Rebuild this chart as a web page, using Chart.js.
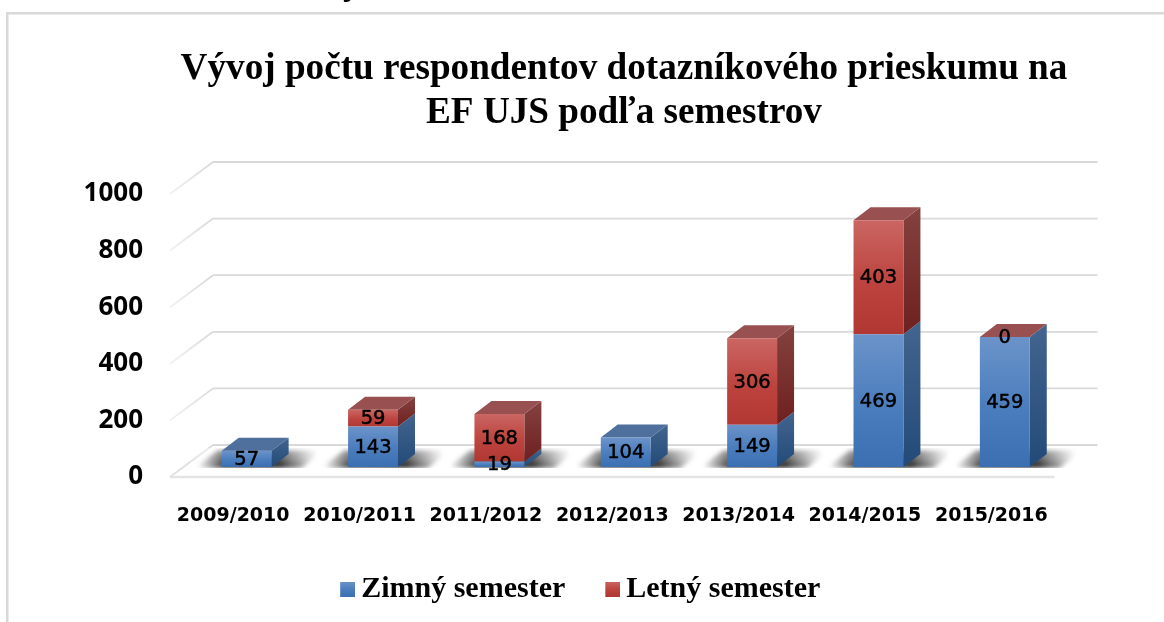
<!DOCTYPE html>
<html lang="sk"><head><meta charset="utf-8">
<style>html,body{margin:0;padding:0;background:#fff}canvas{display:block}</style>
<script src="https://cdn.jsdelivr.net/npm/chart.js@4/dist/chart.umd.min.js"></script>
</head><body><canvas id="c" width="1164" height="622"></canvas>
<script>
const categories=['2009/2010','2010/2011','2011/2012','2012/2013','2013/2014','2014/2015','2015/2016'];
const winter=[57,143,19,104,149,469,459];
const summer=[null,59,168,null,306,403,0];
const seriesNames=['Zimný semester','Letný semester'];
const titleLines=['Vývoj počtu respondentov dotazníkového prieskumu na','EF UJS podľa semestrov'];

const GRID='#d9d9d9';
const BAR_DX=13.5,BAR_DY=-10;     // offset of the bars on the floor
const DEPTH_X=17,DEPTH_Y=-13;     // depth of a bar
const WALL_X=43,WALL_Y=-32;       // depth of the walls
const FACE={blue:['#6b93c9','#4a7dbd','#3b6fb2'],red:['#ca6663','#bd433e','#b13733']};
const SIDE={blue:['#43658f','#234a78'],red:['#84423f','#6e2020']};
const TOP={blue:'#4f6f9c',red:'#985050'};

function faceGradient(ctx,y0,y1,c){
  const g=ctx.createLinearGradient(0,y0,0,y1);
  g.addColorStop(0,c[0]);g.addColorStop(.55,c[1]);g.addColorStop(1,c[2]);return g;
}
function swatch(c){
  const k=document.createElement('canvas');k.width=19;k.height=15;
  const x=k.getContext('2d');x.fillStyle=faceGradient(x,0,15,c);x.fillRect(4,0,15,15);return k;
}
function faceColor(c,lower){
  return function(context){
    const chart=context.chart,y=chart.scales.y,i=context.dataIndex;
    if(i===undefined||!y) return c[1];
    const base=lower?lower[i]||0:0,v=context.dataset.data[i]||0;
    return faceGradient(chart.ctx,y.getPixelForValue(base+v),y.getPixelForValue(base),c);
  };
}
function poly(ctx,pts,fill){
  ctx.beginPath();pts.forEach((p,i)=>i?ctx.lineTo(p[0],p[1]):ctx.moveTo(p[0],p[1]));ctx.closePath();
  ctx.fillStyle=fill;ctx.fill();
}
const scene={
  id:'scene',
  beforeDraw(chart){
    const c=chart.ctx;
    c.save();c.fillStyle=GRID;c.fillRect(6,12,1158,2.5);c.fillRect(6,12,2.5,610);
    c.fillStyle='#000';c.font='bold 36px "Liberation Serif"';c.textAlign='left';c.textBaseline='alphabetic';
    c.fillText('y',343,-6);c.restore();
  },
  beforeDatasetsDraw(chart){
    const c=chart.ctx,ys=chart.scales.y,a=chart.chartArea;
    c.save();
    // walls and floor
    ys.ticks.forEach(t=>{
      const y=ys.getPixelForValue(t.value);
      const g=c.createLinearGradient(a.left,0,a.left+WALL_X,0);
      g.addColorStop(0,t.value===0?'#e4e4e4':'#f2f2f2');g.addColorStop(1,GRID);
      c.strokeStyle=g;c.lineWidth=t.value===0?2:1.8;
      c.beginPath();c.moveTo(a.left,y);c.lineTo(a.left+WALL_X,y+WALL_Y);c.stroke();
      c.strokeStyle=GRID;
      c.beginPath();c.moveTo(a.left+WALL_X,y+WALL_Y);c.lineTo(a.right+WALL_X,y+WALL_Y);c.stroke();
    });
    const y0=ys.getPixelForValue(0);
    c.strokeStyle='#e3e3e3';c.lineWidth=2.5;
    c.beginPath();c.moveTo(a.left,y0);c.lineTo(a.right,y0);c.stroke();
    c.restore();
    c.save();c.translate(BAR_DX,BAR_DY);
    const m0=chart.getDatasetMeta(0),m1=chart.getDatasetMeta(1);
    // floor shadows
    m0.data.forEach(b=>{
      const x0=b.x-b.width/2,x1=b.x+b.width/2,yb=b.base+1;
      c.save();
      c.beginPath();c.rect(x0-32,yb-20,b.width+100,20);c.clip();
      c.save();c.filter='blur(2px)';
      const g=c.createLinearGradient(x0-24,0,x1+46,0),w=b.width+70;
      g.addColorStop(0,'rgba(60,60,60,0)');
      g.addColorStop(24/w,'rgba(45,45,45,.85)');
      g.addColorStop((24+b.width+8)/w,'rgba(35,35,35,.95)');
      g.addColorStop((24+b.width+26)/w,'rgba(70,70,70,.6)');
      g.addColorStop(1,'rgba(90,90,90,0)');
      poly(c,[[x0-28,yb],[x0-4,yb-18],[x1+52,yb-18],[x1+30,yb]],g);
      c.restore();
      const f=c.createLinearGradient(0,yb-18,0,yb-2);
      f.addColorStop(0,'rgba(255,255,255,.45)');f.addColorStop(1,'rgba(255,255,255,0)');
      c.fillStyle=f;c.fillRect(x0-32,yb-20,b.width+100,20);
      c.restore();
    });
    // side and top faces
    [[m0,'blue'],[m1,'red']].forEach(([m,k])=>{
      m.data.forEach((b,i)=>{
        const v=m.index===0?winter[i]:summer[i];
        if(v===null) return;
        const x1=b.x+b.width/2,x0=b.x-b.width/2;
        if(b.base-b.y>0){
          const g=c.createLinearGradient(0,b.y+DEPTH_Y,0,b.base);
          g.addColorStop(0,SIDE[k][0]);g.addColorStop(1,SIDE[k][1]);
          poly(c,[[x1,b.y],[x1+DEPTH_X,b.y+DEPTH_Y],[x1+DEPTH_X,b.base+DEPTH_Y],[x1,b.base]],g);
        }
        const isTop=m.index===1||summer[i]===null;
        if(isTop) poly(c,[[x0,b.y],[x0+DEPTH_X,b.y+DEPTH_Y],[x1+DEPTH_X,b.y+DEPTH_Y],[x1,b.y]],TOP[k]);
      });
    });
  },
  afterDatasetsDraw(chart){
    const c=chart.ctx;
    c.font='19.5px "DejaVu Sans"';c.textAlign='center';c.textBaseline='middle';c.fillStyle='#000';
    c.strokeStyle='#000';c.lineWidth=.5;
    [chart.getDatasetMeta(0),chart.getDatasetMeta(1)].forEach(m=>m.data.forEach((b,i)=>{
      const v=m.index===0?winter[i]:summer[i];
      if(v===null) return;
      const y=(b.y+b.base)/2+1;
      c.fillText(String(v),b.x,y);c.strokeText(String(v),b.x,y);
    }));
    c.restore();
  },
  afterLayout(chart){
    chart.titleBlock.left+=96.75;chart.titleBlock.right+=96.75;
    const l=chart.legend;l.left+=55.5;l.right+=55.5;l.top-=8;l.bottom-=8;
  }
};
new Chart(document.getElementById('c'),{
  type:'bar',
  data:{labels:categories,datasets:[
    {label:seriesNames[0],data:winter,backgroundColor:faceColor(FACE.blue,null),stack:'s',clip:false},
    {label:seriesNames[1],data:summer,backgroundColor:faceColor(FACE.red,winter),stack:'s',clip:false}
  ]},
  options:{
    responsive:false,animation:false,
    barPercentage:.395,categoryPercentage:1,
    layout:{padding:{top:0,left:0,right:109.5,bottom:0}},
    plugins:{
      title:{display:true,text:titleLines,color:'#000',
        font:{family:'"Liberation Serif"',weight:'bold',size:37.2,lineHeight:1.2},
        padding:{top:46.8,bottom:57.9}},
      legend:{position:'bottom',
        labels:{usePointStyle:true,boxWidth:1,boxHeight:15,padding:45,color:'#000',
          font:{family:'"Liberation Serif"',weight:'bold',size:30},
          generateLabels(){return [
            {text:seriesNames[0],pointStyle:swatch(FACE.blue),datasetIndex:0,lineWidth:0,hidden:false},
            {text:seriesNames[1],pointStyle:swatch(FACE.red),datasetIndex:1,lineWidth:0,hidden:false}
          ];}}},
      tooltip:{enabled:false}
    },
    scales:{
      x:{stacked:true,grid:{display:false},border:{display:false},
        ticks:{color:'#000',padding:20,maxRotation:0,autoSkip:false,
          font:{family:'"DejaVu Sans"',weight:'bold',size:19}},
        afterFit(s){s.height=60;}},
      y:{stacked:true,min:0,max:1000,grid:{display:false},border:{display:false},
        ticks:{stepSize:200,color:'#000',padding:19,callback:v=>String(v),
          font:{family:'"Open Sans"',weight:'bold',size:26}},
        afterFit(s){s.width=170;}}
    }
  },
  plugins:[scene]
});
</script></body></html>
